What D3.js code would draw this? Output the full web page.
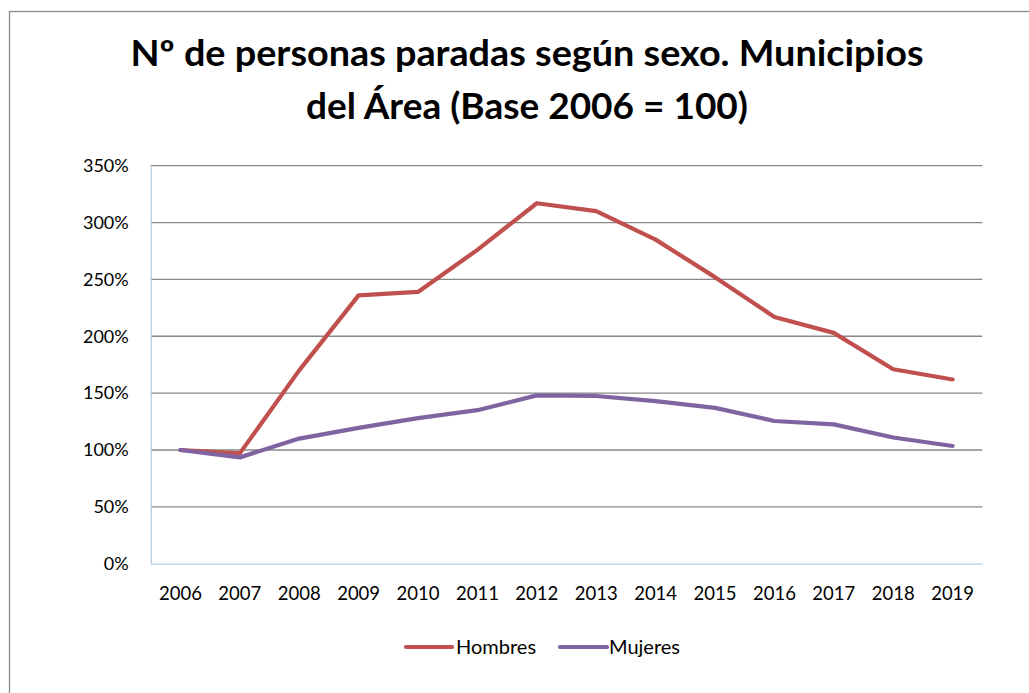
<!DOCTYPE html>
<html>
<head>
<meta charset="utf-8">
<script src="https://cdn.jsdelivr.net/npm/d3@7"></script>
<style>
  html, body { margin: 0; padding: 0; background: #fff; }
  svg { display: block; }
  text { font-family: Lato, "Open Sans", sans-serif; fill: #000; }
</style>
</head>
<body>
<svg id="chart" width="1029" height="693"></svg>
<script>
// Paro registrado por sexo, índice base 2006 = 100
const years = ["2006","2007","2008","2009","2010","2011","2012","2013","2014","2015","2016","2017","2018","2019"];
const hombres = [100, 97, 170, 236, 239, 276, 317, 310, 285, 252, 217, 203, 171, 162];
const mujeres = [100, 93.5, 110, 119.5, 128, 135, 148, 147.5, 143, 137, 125.5, 122.5, 111, 103.5];
const seriesNames = ["Hombres", "Mujeres"];
const seriesColors = ["#C0504D", "#8064A2"];
const yTicks = [0, 50, 100, 150, 200, 250, 300, 350];
const titleLines = ["Nº de personas paradas según sexo. Municipios", "del Área (Base 2006 = 100)"];

const svg = d3.select("#chart");

// chart frame
svg.append("rect")
  .attr("x", 9.5).attr("y", 11.5)
  .attr("width", 1040).attr("height", 700)
  .attr("fill", "#fff")
  .attr("stroke", "#8a8a8a")
  .attr("stroke-width", 1.3);

// title
const titleWidths = [793, 442];
const titleBaselines = [66, 119];
titleLines.forEach((t, i) => {
  svg.append("text")
    .attr("x", 527)
    .attr("y", titleBaselines[i])
    .attr("text-anchor", "middle")
    .attr("font-size", 36)
    .attr("font-weight", "bold")
    .attr("textLength", titleWidths[i])
    .attr("lengthAdjust", "spacingAndGlyphs")
    .text(t);
});

const plotLeft = 150.7, plotRight = 982.3, plotTop = 165.7, plotBottom = 563.7;

const x = d3.scaleBand().domain(years).range([plotLeft, plotRight]);
const y = d3.scaleLinear().domain([0, 350]).range([plotBottom, plotTop]);

// horizontal gridlines
svg.append("g")
  .selectAll("line")
  .data(yTicks.filter(v => v > 0))
  .join("line")
  .attr("x1", plotLeft).attr("x2", plotRight)
  .attr("y1", d => y(d)).attr("y2", d => y(d))
  .attr("stroke", "#878787")
  .attr("stroke-width", 1.3);

// y axis
const yAxis = svg.append("g")
  .attr("transform", `translate(${plotLeft},0)`)
  .call(d3.axisLeft(y).tickValues(yTicks).tickFormat(d => d + "%").tickSize(0).tickPadding(22));
yAxis.select(".domain").attr("stroke", "#b9cde5").attr("stroke-width", 1.3);
yAxis.selectAll("text").attr("font-size", 18).attr("font-family", "Lato, sans-serif").attr("fill", "#000");

// x axis
const xAxis = svg.append("g")
  .attr("transform", `translate(0,${plotBottom})`)
  .call(d3.axisBottom(x).tickSize(0).tickPadding(23));
xAxis.select(".domain").attr("stroke", "#b9cde5").attr("stroke-width", 1.3);
xAxis.selectAll("text").attr("font-size", 18.5).attr("font-family", "Lato, sans-serif").attr("fill", "#000");

// series lines
const line = d3.line()
  .x((d, i) => x(years[i]) + x.bandwidth() / 2)
  .y(d => y(d));

[hombres, mujeres].forEach((vals, i) => {
  svg.append("path")
    .datum(vals)
    .attr("d", line)
    .attr("fill", "none")
    .attr("stroke", seriesColors[i])
    .attr("stroke-width", 4.2)
    .attr("stroke-linejoin", "round")
    .attr("stroke-linecap", "round");
});

// legend
const legendItems = [
  { x1: 406, x2: 452, tx: 456 },
  { x1: 560, x2: 607, tx: 609 }
];
const legendY = 647;
legendItems.forEach((it, i) => {
  svg.append("line")
    .attr("x1", it.x1).attr("x2", it.x2)
    .attr("y1", legendY).attr("y2", legendY)
    .attr("stroke", seriesColors[i])
    .attr("stroke-width", 4.2)
    .attr("stroke-linecap", "round");
  svg.append("text")
    .attr("x", it.tx)
    .attr("y", legendY)
    .attr("dy", "0.35em")
    .attr("font-size", 20)
    .text(seriesNames[i]);
});
</script>
</body>
</html>
